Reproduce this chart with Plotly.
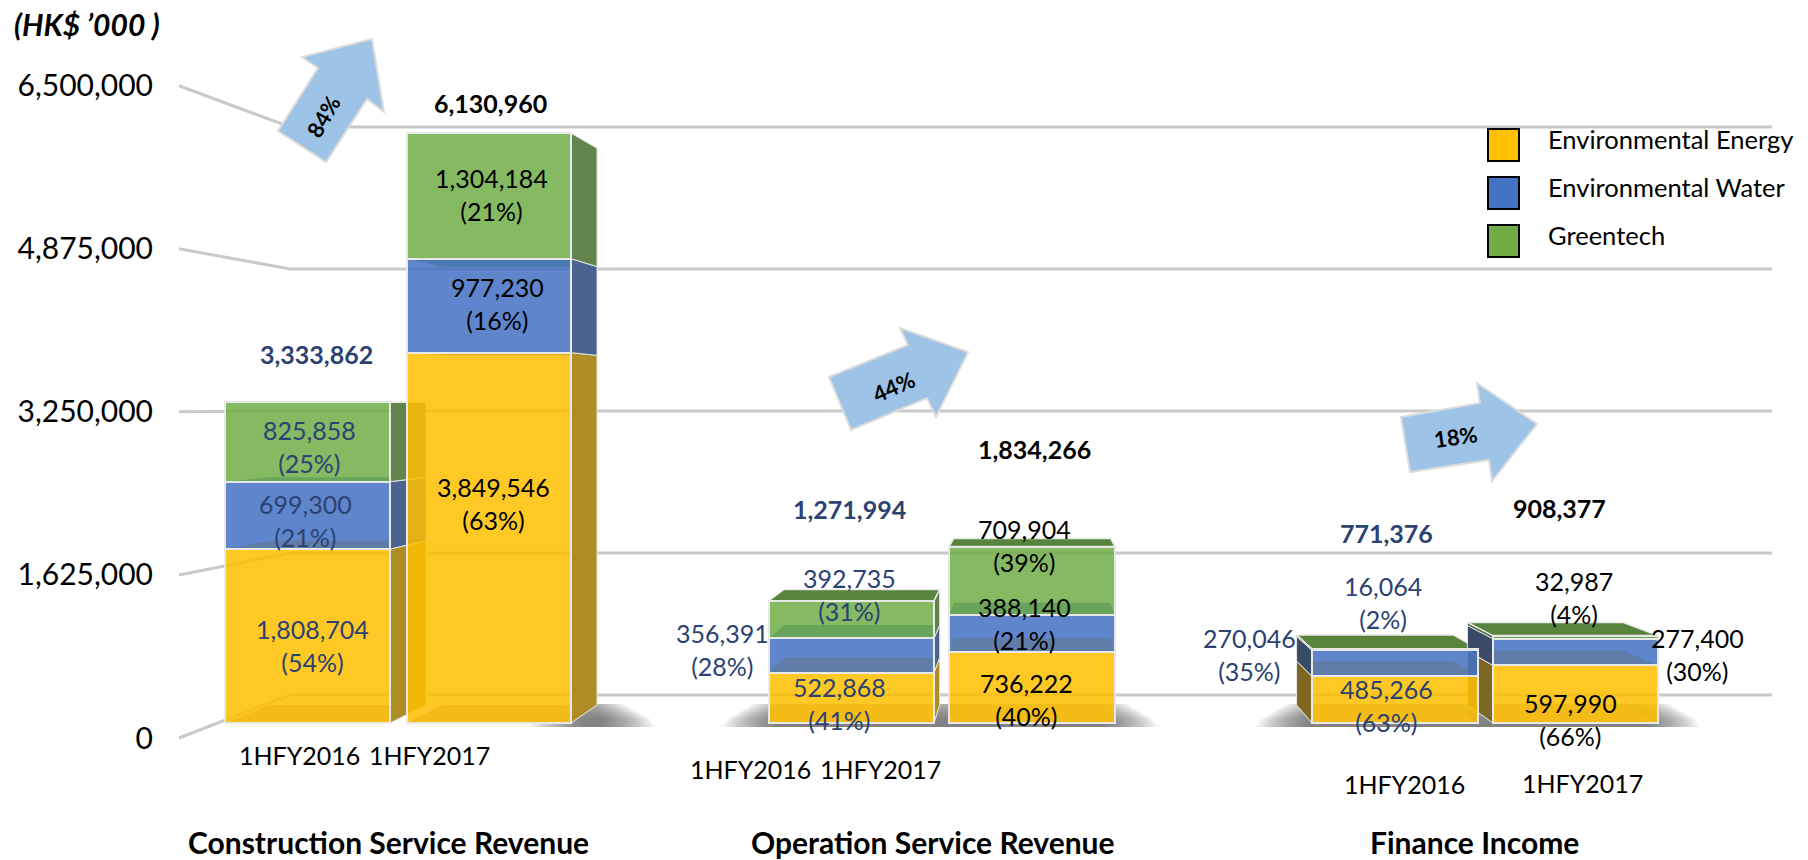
import plotly.graph_objects as go

W, H = 1808, 860
FONT = "Lato"

# ---------- data ----------
groups = ["Construction Service Revenue", "Operation Service Revenue", "Finance Income"]
periods = ["1HFY2016", "1HFY2017"] * 3
series_names = ["Environmental Energy", "Environmental Water", "Greentech"]
energy = [1808704, 3849546, 522868, 736222, 485266, 597990]
water = [699300, 977230, 356391, 388140, 270046, 277400]
greentech = [825858, 1304184, 392735, 709904, 16064, 32987]
energy_pct = [54, 63, 41, 40, 63, 66]
water_pct = [21, 16, 28, 21, 35, 30]
greentech_pct = [25, 21, 31, 39, 2, 4]
totals = [3333862, 6130960, 1271994, 1834266, 771376, 908377]
growth = ["84%", "44%", "18%"]
tick_values = [0, 1625000, 3250000, 4875000, 6500000]
tick_labels = ["0", "1,625,000", "3,250,000", "4,875,000", "6,500,000"]
unit_label = "(HK$ ’000 )"

# ---------- layout constants (pixels on the 1808x860 canvas) ----------
bar_left = [225, 407, 769, 949, 1312, 1493]
bar_right = [390, 571, 934, 1115, 1478, 1658]
VX, VY, DEPTH = 1036, 401, 0.056        # vanishing point and depth of the boxes
Y2_ZERO, Y2_SCALE = 723, 96.2e-6        # front faces
Y1_ZERO, Y1_SCALE = 738, 100.35e-6      # tick marks on the left
WALL_ZERO, WALL_SCALE = 695, 87.4e-6    # back wall
WALL_X, GRID_L, GRID_R = 290, 179, 1772

fill = {"e": "rgba(255,192,0,0.855)", "w": "rgba(68,114,196,0.855)", "g": "rgba(112,173,71,0.855)"}
solid = {"e": (255, 192, 0), "w": (68, 114, 196), "g": (112, 173, 71)}
EDGE = "rgb(232,232,232)"
NAVY = "#2b4272"

total_pos = [(316, 354), (490, 103), (849, 509), (1034, 449), (1386, 533), (1559, 508)]
energy_pos = [(312, 645), (493, 503), (839, 703), (1026, 699), (1386, 705), (1570, 719)]
water_pos = [(305, 520), (497, 303), (722, 649), (1024, 623), (1249, 654), (1697, 654)]
green_pos = [(309, 446), (491, 195), (849, 594), (1024, 545), (1383, 602), (1574, 597)]
period_pos = [(299, 755), (429, 755), (750, 769), (880, 769), (1404, 784), (1582, 783)]
group_pos = [(388, 842), (933, 842), (1474, 842)]

arrow_polys = [
    [(278, 131), (318, 68), (302, 57), (372, 39), (384, 112), (367, 99), (326, 162)],
    [(829, 377), (908, 345), (900, 328), (968, 352), (936, 417), (927, 398), (851, 430)],
    [(1401, 417), (1480, 403), (1477, 383), (1537, 424), (1492, 481), (1489, 460), (1410, 472)],
]
arrow_text = [((323, 116), -60), ((894, 387), -24), ((1456, 437), -8)]
shadows = [(530, 655), (722, 1158), (1256, 1700)]


def y1_of_px(py):
    return (Y1_ZERO - py) / Y1_SCALE


def back(px, py):
    return px + (VX - px) * DEPTH, py + (VY - py) * DEPTH


def rgb(c):
    return "rgb(%d,%d,%d)" % tuple(int(x) for x in c)


def side_color(c, right):
    a, b = (0.545, 37) if right else (0.36, 34)
    return rgb(tuple(a * x + b for x in c))


fig = go.Figure()


def poly(points, color, line=None, width=0):
    xs = [p[0] for p in points] + [points[0][0]]
    ys = [y1_of_px(p[1]) for p in points] + [y1_of_px(points[0][1])]
    fig.add_trace(go.Scatter(
        x=xs, y=ys, mode="lines", fill="toself", fillcolor=color,
        line=dict(color=line or color, width=width), hoverinfo="skip", showlegend=False))


# grid lines on the back wall, with their slanted legs towards the tick labels
for v in tick_values:
    wall = y1_of_px(WALL_ZERO - WALL_SCALE * v)
    fig.add_trace(go.Scatter(
        x=[GRID_L, WALL_X, GRID_R], y=[v, wall, wall], mode="lines",
        line=dict(color="#c9c9c9", width=3), hoverinfo="skip", showlegend=False))

# soft floor shadows: many faint layers, each smaller and taller than the last
LAYERS = 16
for left, right in shadows:
    for i in range(LAYERS):
        inset = i * 3.4
        top = max(704, 718 - i * 2)
        poly([(left + inset + 6, top), (right - inset - 6, top),
              (right - inset, 727), (left + inset, 727)],
             "rgba(60,60,60,0.055)")

# the inner and outer faces of every box
for i in range(len(totals)):
    L, R = bar_left[i], bar_right[i]
    levels = [0, energy[i], energy[i] + water[i], energy[i] + water[i] + greentech[i]]
    py = [Y2_ZERO - Y2_SCALE * v for v in levels]
    keys = ["e", "w", "g"]

    # floor
    poly([(L, py[0]), (R, py[0]), back(R, py[0]), back(L, py[0])], "rgb(185,160,150)")

    # faces between the segments, seen through the translucent front
    for k in (1, 2):
        c = solid[keys[k - 1]] if py[k] > VY else solid[keys[k]]
        poly([(L, py[k]), (R, py[k]), back(R, py[k]), back(L, py[k])], rgb(c))

    # visible side
    side_x = R if R < VX else (L if L > VX else None)
    if side_x is not None:
        for k in range(3):
            poly([(side_x, py[k]), (side_x, py[k + 1]), back(side_x, py[k + 1]), back(side_x, py[k])],
                 side_color(solid[keys[k]], R < VX), EDGE, 1)

    # lid
    if py[3] > VY:
        poly([(L, py[3]), (R, py[3]), back(R, py[3]), back(L, py[3])], "rgb(88,132,62)", EDGE, 1.5)

# front faces: real stacked bars
bar_x = [(l + r) / 2 for l, r in zip(bar_left, bar_right)]
bar_w = [r - l for l, r in zip(bar_left, bar_right)]
for name, vals, key in zip(series_names, [energy, water, greentech], ["e", "w", "g"]):
    fig.add_trace(go.Bar(
        x=bar_x, y=vals, width=bar_w, name=name, yaxis="y2",
        marker=dict(color=fill[key], line=dict(color=EDGE, width=2)),
        customdata=periods, showlegend=False,
        hovertemplate=name + "<br>%{customdata}: %{y:,}<extra></extra>"))

annotations = []


def label(x, y, text, size, color="black", bold=False, italic=False, angle=0, xanchor="center"):
    if bold:
        text = "<b>%s</b>" % text
    if italic:
        text = "<i>%s</i>" % text
    annotations.append(dict(
        x=x, y=1 - y / H, xref="x", yref="paper", text=text, showarrow=False,
        xanchor=xanchor, yanchor="middle", textangle=angle,
        font=dict(family=FONT, size=size, color=color)))


for i in range(len(totals)):
    col = NAVY if i % 2 == 0 else "black"
    label(*total_pos[i], f"{totals[i]:,}", 25, col, bold=True)
    label(*energy_pos[i], f"{energy[i]:,}<br>({energy_pct[i]}%)", 25, col)
    label(*water_pos[i], f"{water[i]:,}<br>({water_pct[i]}%)", 25, col)
    label(*green_pos[i], f"{greentech[i]:,}<br>({greentech_pct[i]}%)", 25, col)
    label(*period_pos[i], periods[i], 25)

for g, pos in zip(groups, group_pos):
    label(*pos, g, 30, bold=True)

label(12, 24, unit_label, 30, bold=True, italic=True, xanchor="left")

# growth arrows
shapes = []
for pts, txt, (pos, ang) in zip(arrow_polys, growth, arrow_text):
    path = "M " + " L ".join(f"{x},{1 - y / H:.5f}" for x, y in pts) + " Z"
    shapes.append(dict(type="path", path=path, xref="x", yref="paper",
                       fillcolor="#9dc3e6", line=dict(color="#dcdcdc", width=2), layer="above"))
    label(pos[0], pos[1], txt, 22, bold=True, angle=ang)

# legend
legend_y = [145, 193, 241]
for name, y, key in zip(series_names, legend_y, ["e", "w", "g"]):
    shapes.append(dict(type="rect", xref="x", yref="paper", x0=1488, x1=1519,
                       y0=1 - (y + 16) / H, y1=1 - (y - 16) / H,
                       fillcolor=rgb(solid[key]), line=dict(color="black", width=2), layer="above"))
    label(1546, y - 6, name, 25.5, xanchor="left")

fig.update_layout(
    width=W, height=H, autosize=False,
    margin=dict(l=0, r=0, t=0, b=0),
    paper_bgcolor="white", plot_bgcolor="white",
    barmode="stack", showlegend=False,
    font=dict(family=FONT),
    xaxis=dict(range=[0, W], visible=False, fixedrange=True),
    yaxis=dict(
        range=[(Y1_ZERO - H) / Y1_SCALE, Y1_ZERO / Y1_SCALE],
        tickmode="array", tickvals=tick_values, ticktext=tick_labels,
        tickfont=dict(family=FONT, size=30, color="black"),
        showgrid=False, zeroline=False, showline=False, ticks="",
        anchor="free", position=153 / W, fixedrange=True),
    yaxis2=dict(
        range=[(Y2_ZERO - H) / Y2_SCALE, Y2_ZERO / Y2_SCALE],
        overlaying="y", visible=False, fixedrange=True),
    annotations=annotations, shapes=shapes,
)

fig.write_html("out.html", config={"displayModeBar": False},
               post_script="document.body.style.margin='0';document.body.style.overflow='hidden';")
